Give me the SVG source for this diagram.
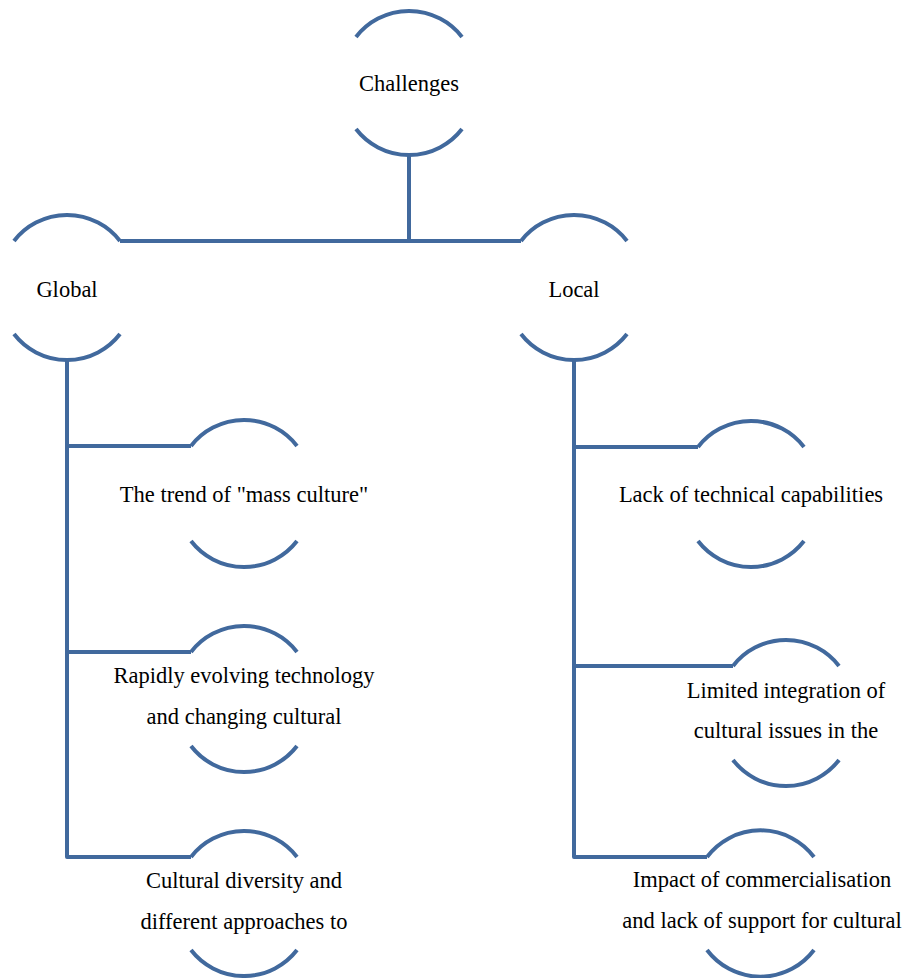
<svg xmlns="http://www.w3.org/2000/svg" width="904" height="978" viewBox="0 0 904 978">
<style>
.arc{fill:none;stroke:#41699D;stroke-width:4}
.conn{fill:none;stroke:#41699D;stroke-width:4;stroke-linejoin:round}
text{font-family:"Liberation Serif","Times New Roman",serif;font-size:22.5px;fill:#000;text-anchor:middle}
</style>
<rect width="904" height="978" fill="#fff"/>
<g id="connectors">
<path class="conn" d="M409,155 V241"/>
<path class="conn" d="M120,241 H521"/>
<path class="conn" d="M67,360 V857 H191"/>
<path class="conn" d="M67,446 H191"/>
<path class="conn" d="M67,652 H191"/>
<path class="conn" d="M574,360 V857 H707"/>
<path class="conn" d="M574,447 H698"/>
<path class="conn" d="M574,666 H733"/>
</g>
<g id="challenges">
<path class="arc" d="M356,37 A67,67 0 0 1 462,37"/>
<path class="arc" d="M356,129 A67,67 0 0 0 462,129"/>
<text x="409" y="91">Challenges</text>
</g>
<g id="global">
<path class="arc" d="M14,241 A67,67 0 0 1 120,241"/>
<path class="arc" d="M14,334 A67,67 0 0 0 120,334"/>
<text x="67" y="297">Global</text>
</g>
<g id="local">
<path class="arc" d="M521,241 A67,67 0 0 1 627,241"/>
<path class="arc" d="M521,334 A67,67 0 0 0 627,334"/>
<text x="574" y="297">Local</text>
</g>
<g id="mass-culture">
<path class="arc" d="M191,446 A67,67 0 0 1 297,446"/>
<path class="arc" d="M191,541 A67,67 0 0 0 297,541"/>
<text x="244" y="502">The trend of "mass culture"</text>
</g>
<g id="technology">
<path class="arc" d="M191,652 A67,67 0 0 1 297,652"/>
<path class="arc" d="M191,746 A67,67 0 0 0 297,746"/>
<text x="244" y="683">Rapidly evolving technology</text>
<text x="244" y="724">and changing cultural</text>
</g>
<g id="diversity">
<path class="arc" d="M191,857 A67,67 0 0 1 297,857"/>
<path class="arc" d="M191,950 A67,67 0 0 0 297,950"/>
<text x="244" y="888">Cultural diversity and</text>
<text x="244" y="929">different approaches to</text>
</g>
<g id="technical">
<path class="arc" d="M698,447 A67,67 0 0 1 804,447"/>
<path class="arc" d="M698,541 A67,67 0 0 0 804,541"/>
<text x="751" y="502">Lack of technical capabilities</text>
</g>
<g id="integration">
<path class="arc" d="M733,666 A67,67 0 0 1 839,666"/>
<path class="arc" d="M733,760 A67,67 0 0 0 839,760"/>
<text x="786" y="698">Limited integration of</text>
<text x="786" y="738">cultural issues in the</text>
</g>
<g id="commercialisation">
<path class="arc" d="M707,857 A67,67 0 0 1 814,857"/>
<path class="arc" d="M707,950 A67,67 0 0 0 814,950"/>
<text x="762" y="887">Impact of commercialisation</text>
<text x="762" y="928">and lack of support for cultural</text>
</g>
</svg>
